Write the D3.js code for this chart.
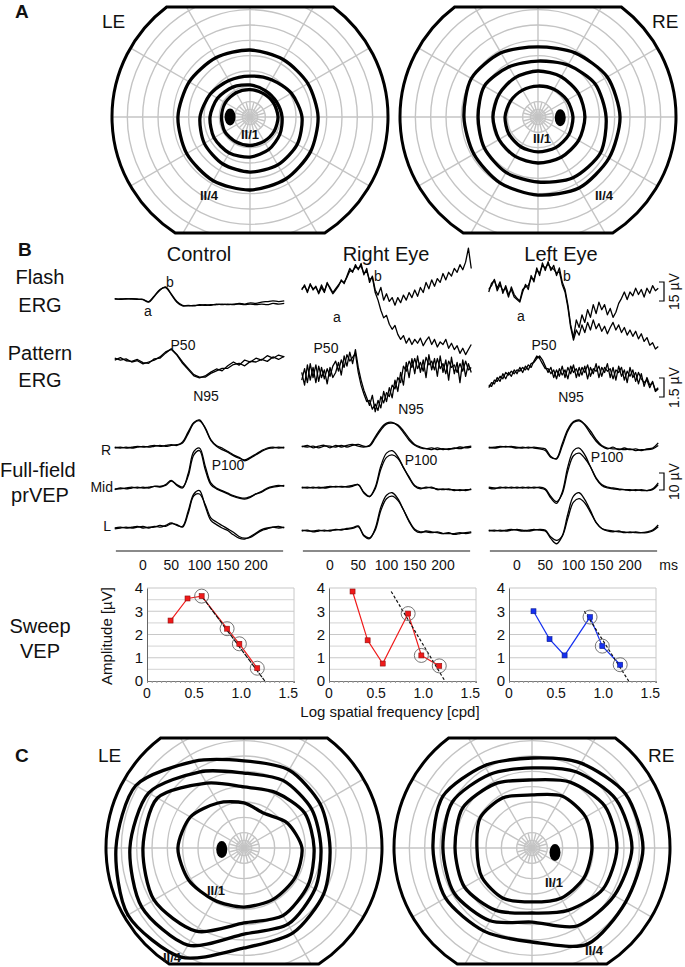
<!DOCTYPE html>
<html>
<head>
<meta charset="utf-8">
<script src="https://cdn.jsdelivr.net/npm/d3@7"></script>
<style>
  body { margin: 0; background: #fff; }
  text { font-family: "Liberation Sans", Arial, sans-serif; fill: #111; }
</style>
</head>
<body>
<script>
// ---- perimetry (Goldmann isopters), radii in degrees at these polar angles ----
const fieldAngles = [0, 30, 60, 90, 120, 150, 180, 210, 240, 270, 300, 330];
const ringDeg = [5, 10, 20, 30, 40, 50, 60, 70, 80];

const isoA_LE = [
  [18.3, 17.9, 17.6, 17.9, 18.3, 18.6, 18.6, 19, 18.6, 18.6, 18.3, 18.3],
  [20.9, 19.9, 19.9, 20.9, 22.5, 24.5, 26.1, 27.1, 27.1, 26.1, 24.5, 22.5],
  [33.9, 31.1, 28.1, 26.7, 27.5, 29.9, 32.6, 34.4, 35.4, 35.9, 36.1, 35.6],
  [44.4, 43.6, 43.3, 43.7, 44.6, 45.8, 47, 47.7, 48, 47.6, 46.7, 45.5]
];
const isoA_RE = [
  [22.8, 21.9, 20.9, 20.2, 20.2, 20.7, 21.5, 22, 22.4, 22.8, 23.1, 23.2],
  [30.6, 30.6, 30.3, 30, 29.7, 29.4, 29.4, 29.4, 29.7, 30, 30.3, 30.6],
  [44.4, 43.1, 39.1, 36.5, 37.8, 40.4, 39.1, 40.4, 41.7, 42.4, 45.7, 47],
  [53.5, 52.2, 48.3, 45.7, 48.3, 50.2, 48.3, 48.3, 49.6, 50.9, 53.5, 53.5]
];
const isoC_LE = [
  [37.8, 32.6, 26.1, 29.4, 33.9, 40.4, 43.1, 41.7, 39.1, 38.5, 38.5, 38.5],
  [45.7, 45.7, 41.7, 39.8, 48.9, 65.2, 65.9, 67.8, 62.6, 48.9, 50.9, 48.3],
  [50.2, 50.9, 50.9, 48.9, 57.4, 71.8, 74.4, 77, 73.1, 56.1, 57.4, 53.5],
  [56.1, 57.4, 58.7, 56.8, 65.2, 81.5, 83.5, 87.4, 82.2, 65.2, 63.9, 60]
];
const isoC_RE = [
  [39.1, 40.4, 39.1, 34.6, 37.8, 39.1, 35.9, 37.8, 37.8, 35.2, 37.8, 39.1],
  [55.4, 54.8, 49.6, 44.4, 48.3, 52.2, 50.2, 50.9, 47, 42.4, 47, 53.5],
  [65.2, 63.3, 57.4, 52.2, 55.4, 60, 58.1, 58.7, 54.8, 48.3, 58.7, 62],
  [72.4, 70.5, 63.9, 58.7, 62, 67.2, 64.6, 65.2, 62.6, 61.3, 72.4, 70.5]
];
// blind spot centre [x, y] in degrees
const blindA_LE = [-13, 0];
const blindA_RE = [14.5, -0.5];
const blindC_LE = [-14.5, -1];
const blindC_RE = [15, -3];

// ---- electrophysiology traces ----
const tCoarse = d3.range(-50, 251, 10);   // ms
const tFine = d3.range(-50, 251, 5);      // ms
const timeTicks = [0, 50, 100, 150, 200];

// Flash ERG (µV)
const flashCtrlA = [0,0,0.3,0,0,-0.5,-2.5,2,7,9.5,4,-2,-5,-5.5,-5,-5,-4.5,-5,-4,-4.5,-4,-4.5,-3.5,-4,-3,-3.5,-2.5,-2,-1.5,-2,-1.5];
const flashCtrlB = [0.3,-0.2,0,0.3,-0.3,-0.3,-2,2.5,7.5,9,3.5,-2.5,-5.5,-5,-5.5,-4.5,-5,-4.5,-4.5,-4,-4.5,-4,-4,-4.5,-4,-4.5,-4,-4.5,-3.5,-4,-3.5];
const flashREA = [0,4,-2,5,0,3,-3,2,-2,6, 1,-3,0,3,8,5,11,17,14,20, 16,21,12,17,6,11,0,-4,2,-8, -3,-9,-6,-12,-6,-10,-4,-8,-2,-6, 0,-5,2,-2,6,1,8,3,9,6, 13,8,14,11,17,14,20,16,22,33, 17];
const flashREB = [1,3,-1,4,1,2,-2,4,-1,5, 2,-2,1,4,7,6,10,15,15,18, 17,19,13,15,8,10,-2,-8,-16,-22, -20,-27,-31,-28,-35,-39,-36,-42,-38,-43, -39,-42,-38,-44,-40,-37,-43,-39,-45,-41, -43,-39,-46,-42,-47,-44,-50,-46,-51,-47, -43];
const flashLEA = [0,7,9,3,8,-1,5,-2,2,-4, -6,-8,0,6,2,13,8,19,13,23, 17,24,17,21,13,19,8,2,-10,-26, -36,-22,-28,-18,-24,-14,-20,-10,-17,-8, -14,-10,-18,-13,-20,-16,-9,-5,0,-6, 0,-3,3,-2,2,-4,3,-1,5,1, 3];
const flashLEB = [2,5,10,1,6,1,3,-4,4,-2, -5,-7,2,4,5,11,10,17,15,21, 19,22,19,18,15,16,6,0,-12,-28, -38,-30,-34,-26,-32,-24,-30,-22,-29,-25, -31,-27,-33,-28,-24,-30,-26,-32,-28,-34, -30,-35,-31,-37,-33,-39,-36,-42,-40,-45, -43];

// Pattern ERG (µV)
const perCtrlA = [0.3,0.15,0.25,0,0.1,-0.15,0,0.15,0.4,0.8,1.0,0.55,-0.1,-0.6,-1.1,-1.25,-1.1,-0.8,-0.55,-0.7,-0.3,0,-0.25,0.15,0,0.3,0.15,0.5,0.3,0.55,0.4];
const perCtrlB = [0.15,0.35,0.1,0.05,0.2,-0.05,-0.1,0.25,0.3,0.7,1.05,0.6,0,-0.5,-1.0,-1.2,-1.2,-0.9,-0.7,-0.5,-0.5,-0.2,-0.1,-0.3,0.05,0,0.2,0.05,0.4,0.2,0.45];
const perREA = [0.2,-0.8,0.8,-0.4,0.6,-0.6,0.7,-0.2,0.4,-0.7, 0.6,-0.2,0.2,1.0,0,1.5,0.7,1.8,0.9,2.0, 0.6,-0.4,-1.2,-1.8,-2.4,-1.6,-2.9,-2.0,-2.6,-1.3, -2.1,-1.0,-1.8,-0.4,-1.3,0.2,-0.8,1.0,-0.2,1.3, 0.1,1.5,0.2,1.2,-0.2,1.6,0.4,1.3,-0.1,1.5, 0.2,1.2,-0.4,1.4,0.1,1.0,-0.6,1.2,-0.1,0.9, 0.2];
const perREB = [-0.4,0.5,-0.6,0.9,-0.2,0.8,-0.5,0.6,-0.3,0.5, -0.1,0.7,1.1,0.3,1.2,0.6,1.6,1.1,1.4,1.7, 0.2,-0.8,-1.5,-2.1,-2.0,-2.7,-2.3,-2.8,-1.7,-2.2, -1.4,-1.7,-0.8,-1.1,-0.2,-0.6,0.7,0.3,1.1,0.6, 1.3,0.5,1.0,0.3,1.4,0.8,1.1,0.4,1.3,0.5, 0.9,0.1,1.1,0.6,0.8,0.2,0.9,0.3,1.1,0.4, 0.6];
const perLEA = [-1.0,-0.6,-0.7,-0.2,-0.5,0.1,-0.3,0.2,-0.1,0.4, 0.1,0.6,0.2,0.7,0.4,0.9,1.0,1.3,1.5,1.2, 0.7,0.2,0.6,-0.2,0.4,-0.1,0.7,-0.2,0.6,0.1, 0.8,-0.2,0.6,0,0.7,-0.3,0.6,0.1,0.9,-0.2, 0.6,0.2,0.9,-0.2,0.6,-0.4,0.7,-0.1,0.4,-0.6, 0.6,-0.2,0.2,-0.7,0.1,-0.9,-0.2,-0.8,-0.6,-1.2, -1.0];
const perLEB = [-0.8,-0.9,-0.4,-0.5,-0.1,-0.3,0.2,0,0.3,0.1, 0.4,0.3,0.6,0.4,0.8,0.6,1.1,1.5,1.3,0.9, 0.5,0.5,0.1,0.4,-0.3,0.5,0,0.4,-0.3,0.7, 0.2,0.5,-0.1,0.6,0.2,0.8,-0.1,0.5,0.3,0.7, -0.1,0.6,0.3,0.5,-0.3,0.4,0.2,0.6,-0.4,0.3, -0.1,0.4,-0.5,0.2,-0.3,-0.6,-0.4,-1.0,-0.5,-1.3, -1.1];

// Full-field pattern-reversal VEP (µV), channels R / Mid / L, two runs each
const vepCtrlR = [[0,0.5,0,0.5,1,0.5,1,1.5,1,1.5, 2,1.5,3.5,9.5,15,16.5,11.5,4.5,1,-1, -2.5,-4.5,-6,-7,-5.5,-3.5,-1.5,0,0.5,0, 0.5],
                  [0.5,0,0.5,0,0.5,1,0.5,1,1.5,1, 1.5,2,3,8.5,14.5,16,12,5,1.5,0, -2,-4,-5.5,-7.5,-6,-4,-2,-0.5,0,0.5, 0]];
const vepCtrlM = [[-1,0,-0.5,0,0.5,0,0.5,1,0.5,2, 4.5,1.5,0,8.5,21.5,23.5,13,3,0,-1.5, -3,-4.5,-5.5,-6,-5,-3.5,-2,0,1,1.5, 1],
                  [-0.5,-0.5,0,0.5,0,0.5,0,1,1,1.5, 4,2,0.5,7,19.5,22,11,2,-0.5,-2, -3.5,-5,-6,-6.5,-5.5,-3.5,-2.5,-0.5,0.5,1, 1.5]];
const vepCtrlL = [[-0.5,0,0.5,0,0.5,1,0,1,0.5,1.5, 3,1.5,1,10,20,22,13,4.5,2,0, -1.5,-4,-6,-6.5,-5,-3,-1,0,0.5,0, 0.5],
                  [0,0.5,0,0.5,1,0,0.5,0.5,1.5,1, 2.5,2,0.5,8.5,19,20,14,6,3.5,1.5, -0.5,-2.5,-5,-6,-5.5,-3.5,-1.5,-0.5,0.5,1, 0]];
const vepRER = [[0,1,-0.5,0.5,1,-0.5,1,0,1,1.5, 0.5,0,1,6,11,14,14.5,12.5,8.5,4, 1,-0.5,-1,-0.5,-1.5,-1,-1.5,-0.5,-1,0, 0.5],
                [0.5,0,0.5,-0.5,0.5,0.5,0,1,0,1, 1.5,0.5,0.5,5,10,13.5,14,13,9.5,5, 1.5,0,-1,-1.5,-0.5,-1.5,-1,-1,0,-0.5, 0]];
const vepREM = [[0,0.5,0,0.5,0,0.5,1,0.5,1,1.5, 2,-3,-5,0.5,13,20.5,22,18.5,12,6, 1,-0.5,0.5,0,-0.5,-1,-0.5,-1.5,-1,-1.5, -0.5],
                [0.5,0,0.5,0,0.5,1,0.5,1,0.5,1, 2,-2.5,-5,-0.5,11,18,19.5,17.5,12,6.5, 1.5,0,0,0.5,-1,-0.5,-1,-1,-1.5,-1, -1]];
const vepREL = [[0,0.5,-0.5,0,0.5,0,1,0.5,1.5,2, 3,-3,-4.5,1.5,14,21,22.5,19,12.5,5.5, 0.5,-1,0,-0.5,-1,-1.5,-1,-2,-1.5,-1, -0.5],
                [0.5,0,0,0.5,0,0.5,0.5,1,1,1.5, 2.5,-2.5,-4,0.5,12,19,20.5,18,12.5,6, 1,-0.5,-0.5,-1,-0.5,-1.5,-1.5,-1.5,-1,-1.5, -1]];
const vepLER = [[0,0.5,1,0.5,1,0.5,0,0.5,0,-0.5, -1.5,-5.5,-6,2.5,11,15.5,16.5,13.5,8.5,4, 1,-0.5,0.5,-1,0,-1,-0.5,-1.5,-0.5,0, 3],
                [0.5,0,0.5,1,0.5,0,0.5,0,0.5,0, -0.5,-5,-6.5,1,10,15,16,14,10,5, 1.5,0,-0.5,-0.5,-1,-0.5,-1.5,-1,-1,-0.5, 1.5]];
const vepLEM = [[0,-0.5,0.5,0,0.5,0,0.5,0,0.5,0, -1,-6,-9,-2.5,12.5,22,23.5,19.5,12.5,5.5, 1.5,0,-0.5,-1,-1,-1.5,-1,-1.5,-1.5,-0.5, 3],
                [0.5,0,0,0.5,0,0.5,0,0.5,0,0.5, -0.5,-5,-8,-3.5,10,19,20.5,17.5,12.5,6, 2,0.5,0,-0.5,-1,-1,-1.5,-1,-1.5,-1, 2]];
const vepLEL = [[0,0.5,0,0.5,1,0.5,0,0.5,1,0.5, 0,-4.5,-7.5,-3,10,20.5,22.5,18.5,12,5, 1.5,0,-0.5,0,-1,-0.5,-1,-1,-0.5,0.5, 3.5],
                [0.5,0,0.5,0,0.5,1,0.5,0,0.5,1, 0.5,-3.5,-5.5,-3,7.5,17,19,16.5,11,5, 1.5,0.5,0,-0.5,-0.5,-1,-0.5,-1,-1,0, 2.5]];

// ---- sweep VEP ----
const sweepTicksX = [0, 0.5, 1.0, 1.5];
const sweepTicksY = [0, 1, 2, 3, 4];
const sweepCtrlX = [0.25, 0.43, 0.58, 0.85, 0.98, 1.17];
const sweepCtrlY = [2.6, 3.55, 3.65, 2.25, 1.6, 0.55];
const sweepREX = [0.25, 0.41, 0.57, 0.84, 0.98, 1.17];
const sweepREY = [3.85, 1.75, 0.75, 2.9, 1.1, 0.65];
const sweepLEX = [0.26, 0.43, 0.59, 0.86, 0.99, 1.18];
const sweepLEY = [3.0, 1.8, 1.1, 2.75, 1.5, 0.7];
const circledCtrl = [2, 3, 4, 5];
const circledRE = [3, 4, 5];
const circledLE = [3, 4, 5];
const fitCtrl = [[0.58, 3.65], [1.25, 0]];
const fitRE = [[0.66, 3.85], [1.23, 0]];
const fitLE = [[0.8, 3.0], [1.27, 0]];

// =====================================================================
const W = 685, H = 967;
const svg = d3.select("body").append("svg").attr("width", W).attr("height", H);

function txt(x, y, s, size, opts = {}) {
  const t = svg.append("text").attr("x", x).attr("y", y).attr("font-size", size).text(s);
  if (opts.anchor) t.attr("text-anchor", opts.anchor);
  if (opts.bold) t.attr("font-weight", "bold");
  if (opts.rotate) t.attr("transform", `rotate(-90,${x},${y})`);
  if (opts.family) t.style("font-family", opts.family);
  return t;
}

// ---------- perimetry fields ----------
const R = 138, chordTop = -110, chordBot = 116;
const rScale = d3.scaleLinear().domain([0, 90]).range([0, R]);
const isoLine = d3.lineRadial()
  .angle((d, i) => (90 - fieldAngles[i]) * Math.PI / 180)
  .radius(d => rScale(d))
  .curve(d3.curveCardinalClosed.tension(0.2));

function field(cx, cy, isopters, blind, lab1, lab4, id) {
  const g = svg.append("g").attr("transform", `translate(${cx},${cy})`);
  const xt = Math.sqrt(R * R - chordTop * chordTop);
  const xb = Math.sqrt(R * R - chordBot * chordBot);
  const outline = `M${-xt},${chordTop}L${xt},${chordTop}A${R},${R} 0 0 1 ${xb},${chordBot}` +
                  `L${-xb},${chordBot}A${R},${R} 0 0 1 ${-xt},${chordTop}Z`;
  g.append("clipPath").attr("id", id).append("path").attr("d", outline);
  const grid = g.append("g").attr("clip-path", `url(#${id})`)
    .attr("stroke", "#c4c4c4").attr("stroke-width", 1.4).attr("fill", "none");
  grid.selectAll("circle").data(ringDeg).join("circle").attr("r", d => rScale(d));
  const spokes = d3.range(0, 360, 15);
  grid.selectAll("line").data(spokes).join("line")
    .attr("x1", 0).attr("y1", 0)
    .attr("x2", a => Math.cos(a * Math.PI / 180) * rScale(a % 30 === 0 ? 95 : 10))
    .attr("y2", a => -Math.sin(a * Math.PI / 180) * rScale(a % 30 === 0 ? 95 : 10));

  g.selectAll("path.iso").data(isopters).join("path").attr("class", "iso")
    .attr("d", isoLine).attr("fill", "none").attr("stroke", "#000").attr("stroke-width", 3.3);
  g.append("ellipse").attr("cx", rScale(blind[0])).attr("cy", -rScale(blind[1]))
    .attr("rx", 5.5).attr("ry", 8.5).attr("fill", "#000");
  g.append("path").attr("d", outline).attr("fill", "none").attr("stroke", "#000").attr("stroke-width", 3);

  const lf = '"Liberation Sans Narrow", "Liberation Sans", Arial, sans-serif';
  g.append("text").attr("x", lab1[0]).attr("y", lab1[1]).attr("text-anchor", "middle")
    .attr("font-size", 13).attr("font-weight", "bold").style("font-family", lf).text("II/1");
  g.append("text").attr("x", lab4[0]).attr("y", lab4[1]).attr("text-anchor", "middle")
    .attr("font-size", 13).attr("font-weight", "bold").style("font-family", lf).text("II/4");
}

field(250, 117, isoA_LE, blindA_LE, [0, 22], [-41, 83], "clipALE");
field(538, 117, isoA_RE, blindA_RE, [4, 26], [66, 83], "clipARE");
field(244, 848, isoC_LE, blindC_LE, [-28, 47], [-72, 114], "clipCLE");
field(532, 848, isoC_RE, blindC_RE, [22, 39], [62, 107], "clipCRE");

txt(15, 18, "A", 19, { bold: true });
txt(102, 28, "LE", 19);
txt(652, 28, "RE", 19);
txt(15, 762, "C", 19, { bold: true });
txt(98, 762, "LE", 19);
txt(648, 762, "RE", 19);

// ---------- panel B ----------
txt(18, 256, "B", 19, { bold: true });
const colT0 = [143, 330, 517];             // pixel of t = 0 in each column
const colNames = ["Control", "Right Eye", "Left Eye"];
const colMid = [199, 386, 561];
colNames.forEach((n, i) => txt(colMid[i], 261, n, 20, { anchor: "middle" }));

[["Flash", 284], ["ERG", 312], ["Pattern", 360], ["ERG", 387], ["Sweep", 633], ["VEP", 658]]
  .forEach(([s, y]) => txt(40, y, s, 20, { anchor: "middle" }));
txt(0, 477, "Full-field", 20);
txt(40, 502, "prVEP", 20, { anchor: "middle" });

const xCol = colT0.map(t0 => d3.scaleLinear().domain([-50, 250]).range([t0 - 28.25, t0 + 141.25]));

function trace(xs, values, times, base, pxPerUnit, curve) {
  const y = d3.scaleLinear().domain([0, 1]).range([base, base - pxPerUnit]);
  const line = d3.line().x((d, i) => xs(times[i])).y(d => y(d)).curve(curve);
  svg.append("path").attr("d", line(values)).attr("fill", "none")
    .attr("stroke", "#000").attr("stroke-width", 1.3).attr("stroke-linejoin", "round");
}

const kFlash = 19 / 15, kPerg = 19 / 1.5, kVep = 17 / 10;
// flash ERG
trace(xCol[0], flashCtrlA, tCoarse, 299, kFlash, d3.curveCatmullRom);
trace(xCol[0], flashCtrlB, tCoarse, 299, kFlash, d3.curveCatmullRom);
trace(xCol[1], flashREA, tFine, 290, kFlash, d3.curveLinear);
trace(xCol[1], flashREB, tFine, 290, kFlash, d3.curveLinear);
trace(xCol[2], flashLEA, tFine, 292, kFlash, d3.curveLinear);
trace(xCol[2], flashLEB, tFine, 292, kFlash, d3.curveLinear);
// pattern ERG
trace(xCol[0], perCtrlA, tCoarse, 362, kPerg, d3.curveLinear);
trace(xCol[0], perCtrlB, tCoarse, 362, kPerg, d3.curveLinear);
trace(xCol[1], perREA, tFine, 375, kPerg, d3.curveLinear);
trace(xCol[1], perREB, tFine, 375, kPerg, d3.curveLinear);
trace(xCol[2], perLEA, tFine, 375, kPerg, d3.curveLinear);
trace(xCol[2], perLEB, tFine, 375, kPerg, d3.curveLinear);
// VEP
const vepSets = [[vepCtrlR, vepCtrlM, vepCtrlL], [vepRER, vepREM, vepREL], [vepLER, vepLEM, vepLEL]];
const vepBase = [[448, 488, 528], [447, 488, 531], [448, 488, 531]];
vepSets.forEach((set, c) => set.forEach((pair, r) => pair.forEach(v =>
  trace(xCol[c], v, tCoarse, vepBase[c][r], kVep, d3.curveCatmullRom))));

// labels on traces
const lab = (x, y, s) => txt(x, y, s, 14, { anchor: "middle" });
lab(170, 287, "b"); lab(148, 316, "a");
lab(378, 281, "b"); lab(337, 322, "a");
lab(567, 281, "b"); lab(521, 321, "a");
lab(183, 350, "P50"); lab(326, 353, "P50"); lab(544, 350, "P50");
lab(206, 401, "N95"); lab(411, 414, "N95"); lab(571, 402, "N95");
lab(228, 470, "P100"); lab(421, 465, "P100"); lab(607, 462, "P100");
txt(111, 455, "R", 14, { anchor: "end" });
txt(113, 492, "Mid", 14, { anchor: "end" });
txt(111, 531, "L", 14, { anchor: "end" });

// time axes
xCol.forEach((xs, c) => {
  svg.append("line").attr("x1", xs(-48)).attr("x2", xs(248)).attr("y1", 551).attr("y2", 551)
    .attr("stroke", "#8a8a8a").attr("stroke-width", 2);
  svg.selectAll(null).data(timeTicks).join("text")
    .attr("x", d => xs(d)).attr("y", 570).attr("text-anchor", "middle").attr("font-size", 14).text(d => d);
});
txt(xCol[2](250) + 1, 570, "ms", 14);

// scale bars
function scaleBar(y1, y2, label) {
  const x = 664;
  svg.append("path").attr("d", `M${x - 5},${y1}H${x}V${y2}H${x - 5}`)
    .attr("fill", "none").attr("stroke", "#000").attr("stroke-width", 1.2);
  txt(x + 15, (y1 + y2) / 2, label, 14, { anchor: "middle", rotate: true });
}
scaleBar(282, 301, "15 µV");
scaleBar(378, 397, "1.5 µV");
scaleBar(473, 490, "10 µV");

// ---------- sweep VEP plots ----------
const sweepX0 = [147, 329, 509];
const ySweep = d3.scaleLinear().domain([0, 4]).range([681, 588]);
const sweepSets = [
  { x: sweepCtrlX, y: sweepCtrlY, c: circledCtrl, fit: fitCtrl, col: "#f01a1a", dash: "5,1" },
  { x: sweepREX, y: sweepREY, c: circledRE, fit: fitRE, col: "#f01a1a", dash: "3,2" },
  { x: sweepLEX, y: sweepLEY, c: circledLE, fit: fitLE, col: "#1530f0", dash: "3,2" }
];
sweepSets.forEach((s, i) => {
  const x = d3.scaleLinear().domain([0, 1.56]).range([sweepX0[i], sweepX0[i] + 147]);
  const g = svg.append("g");
  g.selectAll("line.grid").data(d3.range(0.5, 4.01, 0.5)).join("line").attr("class", "grid")
    .attr("x1", x(0)).attr("x2", x(1.56)).attr("y1", d => ySweep(d)).attr("y2", d => ySweep(d))
    .attr("stroke", d => (d % 1 === 0 ? "#c8c8c8" : "#dcdcdc")).attr("stroke-width", 1.2);
  g.append("line").attr("x1", x(1.56)).attr("x2", x(1.56)).attr("y1", ySweep(4)).attr("y2", ySweep(0))
    .attr("stroke", "#c8c8c8");
  const ax = g.append("g").attr("transform", `translate(0,${ySweep(0)})`)
    .call(d3.axisBottom(x).tickValues(d3.range(0, 1.56, 0.05)).tickSize(2).tickFormat(""));
  ax.selectAll("path").attr("stroke", "#777");
  ax.selectAll("line").attr("stroke", "#999");
  g.selectAll("text.xt").data(sweepTicksX).join("text").attr("class", "xt")
    .attr("x", d => x(d)).attr("y", 698).attr("text-anchor", "middle").attr("font-size", 14)
    .text(d => (d === 0 ? "0" : d.toFixed(1)));
  const ay = g.append("g").attr("transform", `translate(${x(0)},0)`)
    .call(d3.axisLeft(ySweep).tickValues(sweepTicksY).tickSize(0).tickPadding(4).tickFormat(d3.format("d")));
  ay.select(".domain").attr("stroke", "#666");
  ay.selectAll("text").attr("font-size", 15).style("font-family", '"Liberation Sans", Arial, sans-serif');

  const pts = s.x.map((v, k) => [v, s.y[k]]);
  g.append("path").attr("d", d3.line().x(d => x(d[0])).y(d => ySweep(d[1]))(pts))
    .attr("fill", "none").attr("stroke", s.col).attr("stroke-width", 1.2);
  g.append("path").attr("d", d3.line().x(d => x(d[0])).y(d => ySweep(d[1]))(s.fit))
    .attr("fill", "none").attr("stroke", "#111").attr("stroke-width", 1.2).attr("stroke-dasharray", s.dash);
  g.selectAll("rect").data(pts).join("rect")
    .attr("x", d => x(d[0]) - 2.5).attr("y", d => ySweep(d[1]) - 2.5).attr("width", 5).attr("height", 5)
    .attr("fill", s.col).attr("stroke", d3.color(s.col).darker(1.5)).attr("stroke-width", 0.6);
  g.selectAll("circle").data(s.c.map(k => pts[k])).join("circle")
    .attr("cx", d => x(d[0])).attr("cy", d => ySweep(d[1])).attr("r", 7)
    .attr("fill", "none").attr("stroke", "#666").attr("stroke-width", 0.9);
});
txt(112, 636, "Amplitude [µV]", 15, { anchor: "middle", rotate: true });
txt(390, 717, "Log spatial frequency [cpd]", 15, { anchor: "middle" });
</script>
</body>
</html>
